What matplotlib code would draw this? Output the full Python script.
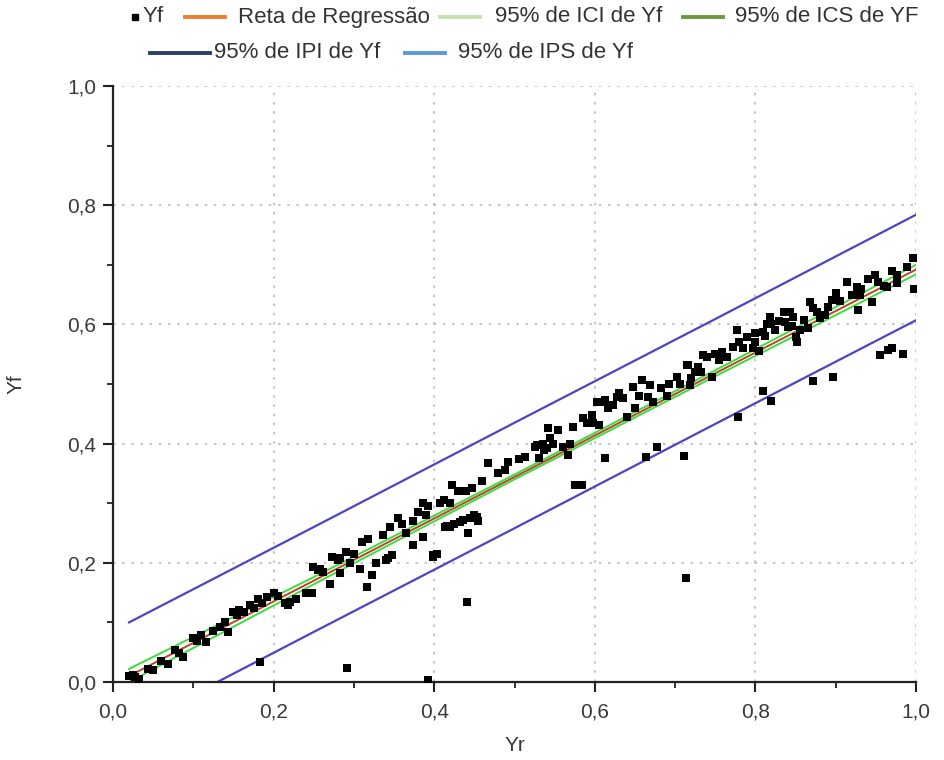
import matplotlib
matplotlib.use("Agg")
import matplotlib.pyplot as plt
from matplotlib.lines import Line2D
from matplotlib.ticker import MultipleLocator, FuncFormatter

plt.rcParams["font.family"] = ["Liberation Sans", "DejaVu Sans"]

# ---- data ----
yr = [0.020,0.025,0.028,0.032,0.044,0.050,0.060,0.068,0.077,0.082,0.087,0.100,0.105,0.110,0.116,0.125,0.133,0.140,0.143,0.150,
      0.155,0.157,0.163,0.170,0.175,0.180,0.185,0.192,0.200,0.205,0.214,0.218,0.183,
      0.220,0.228,0.240,0.248,0.249,0.255,0.258,0.262,0.270,0.273,0.280,0.283,0.283,0.290,0.295,0.300,0.307,0.310,0.316,0.318,
      0.322,0.328,0.336,0.340,0.342,0.345,0.347,0.355,0.360,0.365,0.374,0.374,0.380,0.386,0.386,0.390,0.392,0.398,0.398,0.403,
      0.407,0.412,0.413,0.416,0.420,0.420,0.291,0.392,
      0.422,0.425,0.430,0.432,0.436,0.440,0.441,0.442,0.444,0.447,0.450,0.453,0.455,0.460,0.467,0.480,0.488,0.492,0.505,0.513,
      0.525,0.528,0.530,0.535,0.537,0.540,0.542,0.544,0.548,0.554,0.560,0.567,0.569,0.573,0.575,0.584,0.585,0.590,0.597,0.598,
      0.603,0.605,0.610,0.613,0.613,0.617,0.623,0.628,0.630,0.635,0.640,0.647,0.650,0.655,0.659,0.664,0.666,0.669,0.672,0.677,
      0.683,0.690,0.693,0.702,0.706,0.711,0.714,0.715,0.716,0.718,0.720,0.725,0.728,0.732,0.735,0.740,0.746,0.750,0.755,0.758,
      0.765,0.772,0.777,0.778,0.780,0.785,0.790,0.797,0.800,0.800,
      0.805,0.810,0.810,0.812,0.815,0.818,0.820,0.820,0.825,0.830,0.835,0.837,0.840,0.843,0.845,0.847,0.850,0.852,0.855,0.860,
      0.866,0.868,0.872,0.872,0.877,0.880,0.887,0.890,0.895,0.897,0.900,0.905,0.914,0.920,0.926,0.928,0.930,0.932,0.940,0.945,
      0.949,0.953,0.955,0.960,0.964,0.965,0.970,0.970,0.976,0.976,0.984,0.989,0.996,0.998]
yf = [0.010,0.012,0.008,0.005,0.022,0.020,0.035,0.030,0.054,0.048,0.042,0.074,0.068,0.079,0.067,0.085,0.092,0.100,0.084,0.117,
      0.112,0.120,0.118,0.130,0.125,0.140,0.132,0.142,0.149,0.145,0.133,0.130,0.034,
      0.134,0.140,0.150,0.150,0.193,0.188,0.190,0.185,0.165,0.210,0.205,0.208,0.183,0.218,0.200,0.215,0.190,0.235,0.160,0.240,
      0.180,0.200,0.247,0.205,0.208,0.260,0.213,0.275,0.265,0.250,0.270,0.230,0.285,0.243,0.300,0.280,0.295,0.210,0.213,0.215,
      0.300,0.305,0.260,0.262,0.260,0.300,0.023,0.003,
      0.330,0.265,0.320,0.268,0.272,0.320,0.134,0.250,0.275,0.325,0.280,0.277,0.270,0.337,0.367,0.350,0.356,0.369,0.375,0.378,
      0.395,0.398,0.376,0.400,0.390,0.392,0.426,0.410,0.400,0.423,0.395,0.381,0.400,0.428,0.330,0.330,0.443,0.435,0.448,0.435,
      0.470,0.431,0.470,0.473,0.376,0.460,0.465,0.478,0.485,0.476,0.445,0.495,0.460,0.480,0.507,0.378,0.478,0.498,0.470,0.394,
      0.493,0.480,0.500,0.512,0.500,0.380,0.175,0.532,0.532,0.498,0.510,0.520,0.528,0.520,0.549,0.545,0.512,0.550,0.540,0.554,
      0.545,0.562,0.590,0.445,0.570,0.560,0.579,0.560,0.585,0.570,
      0.555,0.587,0.488,0.580,0.600,0.612,0.600,0.471,0.590,0.605,0.620,0.604,0.595,0.620,0.598,0.612,0.579,0.570,0.590,0.607,
      0.594,0.638,0.628,0.505,0.620,0.610,0.616,0.630,0.641,0.512,0.653,0.640,0.671,0.650,0.663,0.624,0.650,0.660,0.677,0.638,
      0.683,0.671,0.549,0.665,0.663,0.557,0.690,0.560,0.683,0.669,0.550,0.696,0.711,0.660]

fit_x = [0.02, 0.25, 0.50, 0.75, 1.00]
reg_y = [0.010, 0.170, 0.344, 0.518, 0.692]
ici_y = [0.000, 0.164, 0.340, 0.513, 0.684]
ics_y = [0.022, 0.176, 0.348, 0.523, 0.700]
ipi_y = [-0.077, 0.084, 0.258, 0.433, 0.607]
ips_y = [0.100, 0.260, 0.435, 0.609, 0.784]

labels = ["Yf", "Reta de Regressão", "95% de ICI de Yf", "95% de ICS de YF",
          "95% de IPI de Yf", "95% de IPS de Yf"]
legend_colors = ["black", "#ed7d31", "#c5e0b4", "#6a9a3c", "#2b3f66", "#5b9bd5"]

W, H = 945, 760
fig = plt.figure(figsize=(W / 100, H / 100), dpi=100)
ax = fig.add_axes([113 / W, 1 - 682 / H, (916 - 113) / W, (682 - 86) / H])

ax.plot(fit_x, ipi_y, color="#4b44c4", lw=1.6, zorder=2)
ax.plot(fit_x, ips_y, color="#4b44c4", lw=1.6, zorder=2)
ax.plot(fit_x, ici_y, color="#3ddc3d", lw=1.4, zorder=2)
ax.plot(fit_x, ics_y, color="#3ddc3d", lw=1.4, zorder=2)
ax.plot(fit_x, reg_y, color="#b8452c", lw=1.4, zorder=3)
ax.scatter(yr, yf, marker="s", s=26, color="black", linewidths=0, zorder=4)

ax.set_xlim(0, 1.0)
ax.set_ylim(0, 1.0)
ax.xaxis.set_major_locator(MultipleLocator(0.2))
ax.yaxis.set_major_locator(MultipleLocator(0.2))
ax.xaxis.set_minor_locator(MultipleLocator(0.1))
ax.yaxis.set_minor_locator(MultipleLocator(0.1))
fmt = FuncFormatter(lambda v, p: f"{v:.1f}".replace(".", ","))
ax.xaxis.set_major_formatter(fmt)
ax.yaxis.set_major_formatter(fmt)

for s in ["top", "right"]:
    ax.spines[s].set_visible(False)
for s in ["left", "bottom"]:
    ax.spines[s].set_linewidth(1.6)
    ax.spines[s].set_color("#222222")

ax.tick_params(which="major", direction="out", length=7, width=1.5, labelsize=15,
               labelcolor="#3a3a3a", color="#222222", pad=5)
ax.tick_params(which="major", axis="x", pad=8)
ax.tick_params(which="minor", direction="out", length=4, width=1.3, color="#222222")

ax.grid(True, which="major", linestyle=(0, (1.5, 4)), color="#bbbbbb", lw=1.2)
for gl in [ax.get_xgridlines()[-1], ax.get_ygridlines()[-1],
           ax.get_xgridlines()[0], ax.get_ygridlines()[0]]:
    gl.set_visible(False)
ax.set_axisbelow(True)

ax.set_xlabel("Yr", fontsize=15, color="#3a3a3a", labelpad=10)
ax.set_ylabel("Yf", fontsize=15, color="#3a3a3a", labelpad=30)

# ---- legend (two rows, positioned as in the reference) ----
lfont = dict(family=["Liberation Sans", "DejaVu Sans"], size=16,
             color="#333333", va="center", ha="left")
# (kind, x_start, x_end, text_x, y) in pixels
legend_layout = [
    ("marker", 135, 135, 143, 17),
    ("line", 185, 225, 238, 17),
    ("line", 440, 480, 495, 17),
    ("line", 683, 723, 735, 17),
    ("line", 150, 210, 214, 53),
    ("line", 405, 445, 458, 53),
]
for (kind, x0, x1, tx, y), lab, col in zip(legend_layout, labels, legend_colors):
    yy = 1 - y / H
    if kind == "marker":
        fig.add_artist(Line2D([x0 / W], [yy], marker="s", markersize=4.5, color=col,
                              linestyle="none", transform=fig.transFigure))
    else:
        fig.add_artist(Line2D([x0 / W, x1 / W], [yy, yy], color=col, lw=2.8,
                              transform=fig.transFigure))
    fig.text(tx / W, yy, lab, **lfont)

fig.savefig("out.png", dpi=100)
